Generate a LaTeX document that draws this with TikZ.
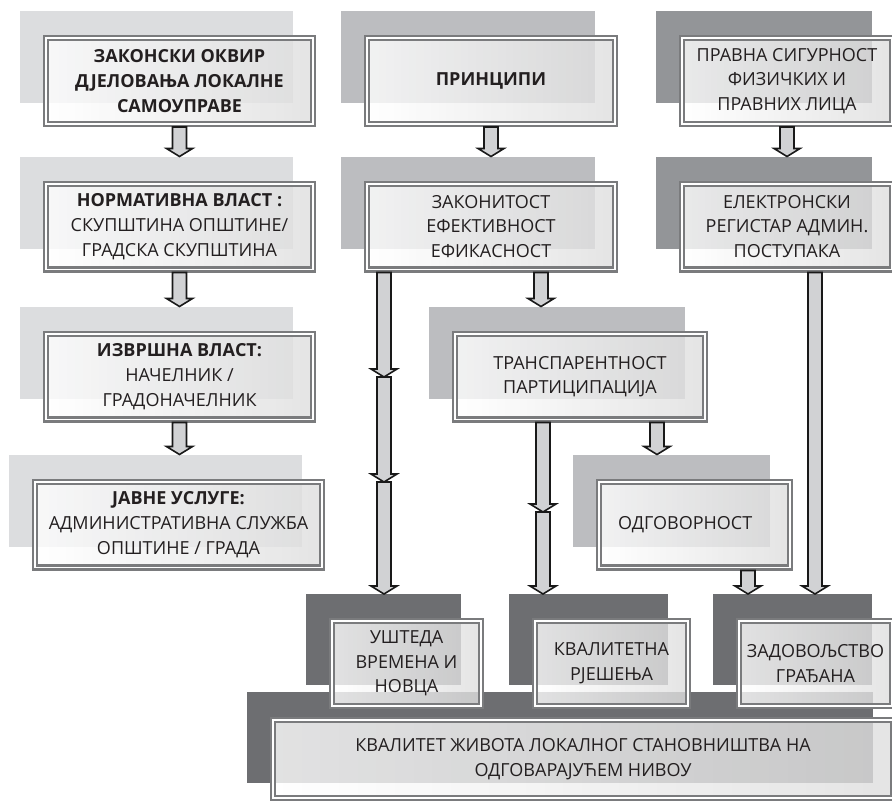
\documentclass[tikz,border=0pt]{standalone}
\usepackage{fontspec}
\setmainfont{Open Sans}
\usetikzlibrary{calc}

\definecolor{shlight}{RGB}{220,221,223}
\definecolor{shmid}{RGB}{188,189,192}
\definecolor{shdark}{RGB}{147,149,152}
\definecolor{shdeep}{RGB}{109,110,113}
\definecolor{framegray}{RGB}{122,123,125}
\definecolor{arrowfill}{RGB}{209,210,212}
\definecolor{ink}{RGB}{35,31,32}

\tikzset{
  shd/.style={inner sep=0pt, outer sep=0pt},
  ssz/.style 2 args={minimum width=#1*0.75pt, minimum height=#2*0.75pt},
  frm/.style={draw=framegray, double=white, line width=1.6pt, double distance=1.4pt,
    left color=white, right color=black!13, fill opacity=0.8, text opacity=1,
    text=ink, align=center, inner sep=0pt, outer sep=2.3pt,
    font=\fontsize{13.5}{18.5}\selectfont},
  sz/.style 2 args={minimum width=#1*0.75pt-4.6pt, minimum height=#2*0.75pt-4.6pt},
  barrow/.style={draw=black!90, line width=1.2pt, fill=arrowfill, line join=miter,
    to path={($(\tikztostart)+(-5.25pt,0)$) -- ($(\tikztotarget)+(-5.25pt,6pt)$)
      -- ($(\tikztotarget)+(-9.75pt,6pt)$) -- (\tikztotarget)
      -- ($(\tikztotarget)+(9.75pt,6pt)$) -- ($(\tikztotarget)+(5.25pt,6pt)$)
      -- ($(\tikztostart)+(5.25pt,0)$) -- cycle}}
}

\begin{document}
\begin{tikzpicture}[x=0.75pt,y=-0.75pt]
\useasboundingbox (0,0) rectangle (892,803);

% лијева колона
\node[shd, ssz={273}{92}, fill=shlight] (s1) at (156.5,57) {};
\node[frm, sz={273}{92}] (b1) at ([shift={(23,24)}]s1) {\textbf{ЗАКОНСКИ ОКВИР}\\\textbf{ДЈЕЛОВАЊА ЛОКАЛНЕ}\\\textbf{САМОУПРАВЕ}};
\node[shd, ssz={273}{92}, fill=shlight] (s2) at (156.5,202.5) {};
\node[frm, sz={273}{92}] (b2) at ([shift={(23,24)}]s2) {\textbf{НОРМАТИВНА ВЛАСТ :}\\СКУПШТИНА ОПШТИНЕ/\\ГРАДСКА СКУПШТИНА};
\node[shd, ssz={273}{92}, fill=shlight] (s3) at (156.5,352.5) {};
\node[frm, sz={273}{92}] (b3) at ([shift={(23,24)}]s3) {\textbf{ИЗВРШНА ВЛАСТ:}\\НАЧЕЛНИК /\\ГРАДОНАЧЕЛНИК};
\node[shd, ssz={293}{92}, fill=shlight] (s4) at (155.5,500.5) {};
\node[frm, sz={293}{92}] (b4) at ([shift={(23,24)}]s4) {\textbf{ЈАВНЕ УСЛУГЕ:}\\АДМИНИСТРАТИВНА СЛУЖБА\\ОПШТИНЕ / ГРАДА};

% средња колона
\node[shd, ssz={254}{92}, fill=shmid] (s5) at (468,57) {};
\node[frm, sz={254}{92}] (b5) at ([shift={(23,24)}]s5) {\textbf{ПРИНЦИПИ}};
\node[shd, ssz={254}{92}, fill=shmid] (s6) at (468,202.5) {};
\node[frm, sz={254}{92}] (b6) at ([shift={(23,24)}]s6) {ЗАКОНИТОСТ\\ЕФЕКТИВНОСТ\\ЕФИКАСНОСТ};
\node[shd, ssz={256}{92}, fill=shmid] (s7) at (557,352.5) {};
\node[frm, sz={256}{92}] (b7) at ([shift={(23,24)}]s7) {ТРАНСПАРЕНТНОСТ\\ПАРТИЦИПАЦИЈА};
\node[shd, ssz={197}{92}, fill=shmid] (s8) at (671.5,500.5) {};
\node[frm, sz={197}{92}] (b8) at ([shift={(23,24)}]s8) {ОДГОВОРНОСТ\hspace*{14pt}};

% десна колона
\node[shd, ssz={216}{92}, fill=shdark] (s9) at (764,57) {};
\node[frm, sz={216}{92}] (b9) at ([shift={(23,24)}]s9) {ПРАВНА СИГУРНОСТ\\ФИЗИЧКИХ И\\ПРАВНИХ ЛИЦА};
\node[shd, ssz={216}{92}, fill=shdark] (s10) at (764,202.5) {};
\node[frm, sz={216}{92}] (b10) at ([shift={(23,24)}]s10) {ЕЛЕКТРОНСКИ\\РЕГИСТАР АДМИН.\\ПОСТУПАКА};

% исходи
\node[shd, ssz={626}{91}, fill=shdeep] (sq) at (560,737.5) {};
\node[frm, sz={626}{84}] (q) at ([shift={(23,21.5)}]sq) {КВАЛИТЕТ ЖИВОТА ЛОКАЛНОГ СТАНОВНИШТВА НА\\ОДГОВАРАЈУЋЕМ НИВОУ};
\node[shd, ssz={155}{91}, fill=shdeep] (sr1) at (383.5,639.5) {};
\node[frm, sz={155}{91}] (r1) at ([shift={(23,24)}]sr1) {УШТЕДА\\ВРЕМЕНА И\\НОВЦА};
\node[shd, ssz={159}{91}, fill=shdeep] (sr2) at (588.5,639.5) {};
\node[frm, sz={159}{91}] (r2) at ([shift={(23,24)}]sr2) {КВАЛИТЕТНА\\РЈЕШЕЊА};
\node[shd, ssz={159}{91}, fill=shdeep] (sr3) at (792.5,639.5) {};
\node[frm, sz={159}{91}] (r3) at ([shift={(23,24)}]sr3) {ЗАДОВОЉСТВО\\ГРАЂАНА};

% стрелице
\coordinate (j1) at (384,377);
\coordinate (j2) at (384,482);
\coordinate (j3) at (543,512);
\coordinate (k1) at (541,300);
\coordinate (k2) at (657,450);
\coordinate (k3) at (748,590);
\coordinate (k4) at (815,590);

\foreach \a/\b in {b1/s2,b2/s3,b3/s4,b5/s6,b9/s10} {
    \draw[barrow] (\a.south) to (\a.south |- \b.north);
}
\draw[barrow] (b6.south -| j1) to (j1);
\draw[barrow] (j1) to (j2);
\draw[barrow] (j2) to (j2 |- sr1.north);
\draw[barrow] (b6.south -| k1) to (k1 |- s7.north);
\draw[barrow] (b7.south -| j3) to (j3);
\draw[barrow] (j3) to (j3 |- sr2.north);
\draw[barrow] (b7.south -| k2) to (k2 |- s8.north);
\draw[barrow] (b8.south -| k3) to (k3 |- sr3.north);
\draw[barrow] (b10.south -| k4) to (k4 |- sr3.north);
\end{tikzpicture}
\end{document}
